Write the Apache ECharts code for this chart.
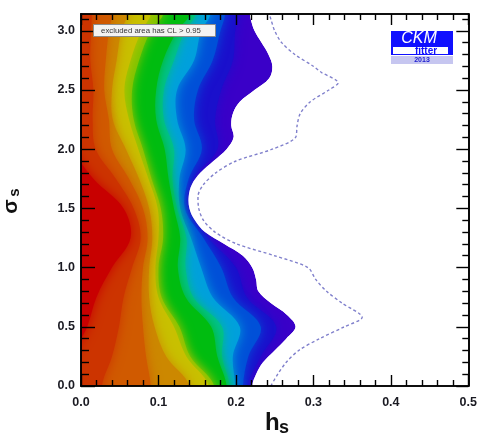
<!DOCTYPE html>
<html><head><meta charset="utf-8">
<script src="https://cdn.jsdelivr.net/npm/echarts@6/dist/echarts.min.js"></script>
<style>html,body{margin:0;padding:0;background:#fff}#c{width:480px;height:437px}</style>
</head><body><div id="c"></div>
<script>
// ---------- data ----------
const xTickValues = [0, 0.1, 0.2, 0.3, 0.4, 0.5];
const xTickLabels = ['0.0', '0.1', '0.2', '0.3', '0.4', '0.5'];
const xMinorTicks = [0.02,0.04,0.06,0.08,0.12,0.14,0.16,0.18,0.22,0.24,0.26,0.28,0.32,0.34,0.36,0.38,0.42,0.44,0.46,0.48];
const yTickValues = [0, 0.5, 1.0, 1.5, 2.0, 2.5, 3.0];
const yTickLabels = ['0.0', '0.5', '1.0', '1.5', '2.0', '2.5', '3.0'];
const yMinorTicks = [0.1,0.2,0.3,0.4,0.6,0.7,0.8,0.9,1.1,1.2,1.3,1.4,1.6,1.7,1.8,1.9,2.1,2.2,2.3,2.4,2.6,2.7,2.8,2.9,3.1];

// CL > 0.95 exclusion boundary (h_s at each sigma_s)
const sigmaFine = [0,0.1,0.2,0.3,0.4,0.5,0.6,0.7,0.8,0.9,1.0,1.1,1.2,1.3,1.4,1.5,1.6,1.7,1.8,1.9,2.0,2.1,2.2,2.3,2.4,2.5,2.6,2.7,2.8,2.9,3.0,3.1,3.1416];
const boundary95 = [0.221,0.226,0.235,0.250,0.265,0.277,0.266,0.245,0.229,0.226,0.221,0.209,0.185,0.160,0.147,0.140,0.139,0.143,0.154,0.171,0.188,0.197,0.194,0.196,0.205,0.224,0.243,0.247,0.242,0.233,0.224,0.219,0.218];

// dashed contour
const sigmaDashed = [0,0.1,0.2,0.3,0.4,0.5,0.58,0.7,0.8,0.9,1.0,1.1,1.2,1.3,1.4,1.5,1.6,1.7,1.8,1.9,2.0,2.1,2.2,2.3,2.4,2.5,2.56,2.65,2.7,2.8,2.9,3.0,3.1,3.1416];
const dashedContour = [0.245,0.254,0.265,0.281,0.308,0.340,0.363,0.337,0.317,0.303,0.293,0.250,0.201,0.173,0.158,0.152,0.151,0.158,0.174,0.200,0.247,0.277,0.279,0.283,0.296,0.320,0.332,0.310,0.300,0.276,0.259,0.250,0.245,0.243];

// inner colour contours (h_s at each sigma knot)
const sigmaKnots = [0, 0.25, 0.5, 0.75, 1.0, 1.25, 1.5, 1.75, 2.0, 2.25, 2.5, 2.75, 3.0, 3.1416];
const contour1  = [-0.01,-0.01,0.008,0.020,0.040,0.064,0.055,0.016,-0.01,-0.02,-0.02,-0.02,-0.02,-0.02];
const contour2  = [0.027,0.040,0.049,0.055,0.066,0.077,0.068,0.045,0.019,0.015,0.016,0.012,0.013,0.014];
const contour3  = [0.090,0.084,0.080,0.078,0.080,0.086,0.080,0.062,0.040,0.036,0.030,0.032,0.036,0.040];
const contour4  = [0.140,0.110,0.095,0.088,0.088,0.092,0.088,0.075,0.058,0.041,0.040,0.046,0.052,0.060];
const contour5  = [0.165,0.136,0.120,0.100,0.096,0.100,0.099,0.087,0.074,0.062,0.056,0.064,0.078,0.090];
const contour6  = [0.172,0.141,0.127,0.104,0.100,0.106,0.103,0.091,0.080,0.068,0.066,0.075,0.090,0.106];
const contour7  = [0.188,0.176,0.168,0.135,0.125,0.128,0.120,0.113,0.108,0.097,0.097,0.106,0.124,0.140];
const contour8  = [0.192,0.182,0.182,0.145,0.135,0.136,0.124,0.118,0.120,0.107,0.107,0.120,0.134,0.148];
const contour9  = [0.199,0.196,0.205,0.170,0.155,0.142,0.128,0.127,0.135,0.124,0.124,0.146,0.155,0.167];
const contour10 = [0.209,0.216,0.232,0.196,0.181,0.158,0.134,0.139,0.156,0.146,0.151,0.170,0.180,0.186];
const contour11 = [0.215,0.232,0.252,0.214,0.200,0.164,0.137,0.144,0.176,0.173,0.181,0.196,0.199,0.203];

// band colours, outermost (purple) to innermost (deep red)
const bandColors = ['#3a00c8','#1a10cc','#0050d8','#00a0dc','#00c090','#00bc10','#7cc400','#c8c000','#cc8800','#d05a00','#cc3400','#c80000'];

// ---------- chart ----------
const bands = [
  {xs: boundary95, ys: sigmaFine},
  {xs: contour11, ys: sigmaKnots},
  {xs: contour10, ys: sigmaKnots},
  {xs: contour9, ys: sigmaKnots},
  {xs: contour8, ys: sigmaKnots},
  {xs: contour7, ys: sigmaKnots},
  {xs: contour6, ys: sigmaKnots},
  {xs: contour5, ys: sigmaKnots},
  {xs: contour4, ys: sigmaKnots},
  {xs: contour3, ys: sigmaKnots},
  {xs: contour2, ys: sigmaKnots},
  {xs: contour1, ys: sigmaKnots}
];
const nBands = bands.length;

const chart = echarts.init(document.getElementById('c'), null, {renderer: 'canvas'});
const FONT = 'Liberation Sans, Arial, sans-serif';
const lineSty = {color: '#000', width: 1.6};
const tickSty = {color: '#000', width: 1.4};

function xAx(pos, ticks, len, labels) {
  return {
    type: 'value', min: 0, max: 0.5, interval: 0.1, position: pos, z: 10,
    axisLine: {show: true, onZero: false, lineStyle: lineSty},
    axisTick: {show: true, inside: true, length: len, customValues: ticks, lineStyle: tickSty},
    axisLabel: labels ? {
      show: true, margin: 10, customValues: xTickValues,
      formatter: v => xTickLabels[xTickValues.findIndex(t => Math.abs(t - v) < 1e-9)] || '',
      fontFamily: FONT, fontWeight: 'bold', fontSize: 12.5, color: '#1a1a22'
    } : {show: false, customValues: ticks},
    splitLine: {show: false}
  };
}
function yAx(pos, ticks, len, labels) {
  return {
    type: 'value', min: 0, max: Math.PI, interval: 0.5, position: pos, z: 10,
    axisLine: {show: true, onZero: false, lineStyle: lineSty},
    axisTick: {show: true, inside: true, length: len, customValues: ticks, lineStyle: tickSty},
    axisLabel: labels ? {
      show: true, margin: 6, customValues: yTickValues,
      formatter: v => yTickLabels[yTickValues.findIndex(t => Math.abs(t - v) < 1e-9)] || '',
      fontFamily: FONT, fontWeight: 'bold', fontSize: 12.5, color: '#1a1a22'
    } : {show: false, customValues: ticks},
    splitLine: {show: false}
  };
}

const option = {
  backgroundColor: '#fff',
  animation: false,
  grid: {left: 81, right: 10, top: 14, bottom: 51},
  xAxis: [
    xAx('bottom', xTickValues, 11, true),
    xAx('bottom', xMinorTicks, 6, false),
    xAx('top', xTickValues, 11, false),
    xAx('top', xMinorTicks, 6, false)
  ],
  yAxis: [
    yAx('left', yTickValues, 14, true),
    yAx('left', yMinorTicks, 8, false),
    yAx('right', yTickValues, 12, false),
    yAx('right', yMinorTicks, 6, false)
  ],
  series: [
    {
      type: 'custom',
      clip: true,
      silent: true,
      xAxisIndex: 0, yAxisIndex: 0,
      // one item per colour band, plus a final item for the white excluded area
      data: bands.map(() => [0, 0]).concat([[0, 0]]),
      renderItem: function (params, api) {
        const i = params.dataIndex;
        if (i === nBands) {
          const pts = [];
          const n = boundary95.length;
          pts.push(api.coord([0.8, -0.4]));
          pts.push(api.coord([boundary95[0], -0.4]));
          for (let k = 0; k < n; k++) pts.push(api.coord([boundary95[k], sigmaFine[k]]));
          pts.push(api.coord([boundary95[n - 1], Math.PI + 0.4]));
          pts.push(api.coord([0.8, Math.PI + 0.4]));
          return {type: 'polygon', shape: {points: pts, smooth: 0.35}, style: {fill: '#fff'}};
        }
        const b = bands[i];
        const n = b.xs.length;
        const pts = [];
        pts.push(api.coord([-0.1, -0.4]));
        pts.push(api.coord([b.xs[0], -0.4]));
        for (let k = 0; k < n; k++) pts.push(api.coord([b.xs[k], b.ys[k]]));
        pts.push(api.coord([b.xs[n - 1], Math.PI + 0.4]));
        pts.push(api.coord([-0.1, Math.PI + 0.4]));
        return {
          type: 'polygon',
          shape: {points: pts, smooth: 0.35},
          style: {fill: bandColors[i], shadowBlur: i === 0 ? 0 : 12, shadowColor: bandColors[i]}
        };
      },
      z: 1
    },
    {
      type: 'line',
      xAxisIndex: 0, yAxisIndex: 0,
      data: dashedContour.map((x, i) => [x, sigmaDashed[i]]),
      smooth: 0.3,
      showSymbol: false,
      symbol: 'none',
      clip: true,
      lineStyle: {type: [3, 2.5], color: '#8080cc', width: 1.4},
      z: 3
    }
  ],
  graphic: [
    // exclusion note
    {type: 'rect', left: 93, top: 24, shape: {width: 122, height: 12}, style: {fill: '#f3f3f3', stroke: '#8c8c8c', lineWidth: 1}, z: 100},
    {type: 'text', x: 151, y: 30.5, style: {text: 'excluded area has CL > 0.95', font: '7.8px ' + FONT, fill: '#333', align: 'center', verticalAlign: 'middle'}, z: 101},
    // CKMfitter logo
    {type: 'rect', shape: {x: 391, y: 31, width: 62, height: 24}, style: {fill: '#1010ff'}, z: 100},
    {type: 'text', x: 419, y: 39, style: {text: 'CKM', font: 'italic 16px ' + FONT, fill: '#fff', align: 'center', verticalAlign: 'middle'}, z: 101},
    {type: 'rect', shape: {x: 393, y: 47, width: 55, height: 7}, style: {fill: '#fff'}, z: 101},
    {type: 'text', x: 426, y: 50.8, style: {text: 'fitter', font: 'bold 10px ' + FONT, fill: '#1010ff', align: 'center', verticalAlign: 'middle'}, z: 102},
    {type: 'rect', shape: {x: 391, y: 56, width: 62, height: 8}, style: {fill: '#c6c6f0'}, z: 100},
    {type: 'text', x: 422, y: 60.3, style: {text: '2013', font: 'bold 7px ' + FONT, fill: '#2020d0', align: 'center', verticalAlign: 'middle'}, z: 101},
    // axis titles
    {type: 'text', x: 265, y: 423.7, style: {text: 'h', font: 'bold 24px ' + FONT, fill: '#111', align: 'left', verticalAlign: 'middle'}, z: 50},
    {type: 'text', x: 279, y: 428.5, style: {text: 's', font: 'bold 18px ' + FONT, fill: '#111', align: 'left', verticalAlign: 'middle'}, z: 50},
    {type: 'text', x: 11.5, y: 206.5, rotation: Math.PI / 2, style: {text: 'σ', font: 'bold 21px ' + FONT, fill: '#111', align: 'center', verticalAlign: 'middle'}, z: 50},
    {type: 'text', x: 14.5, y: 192.5, rotation: Math.PI / 2, style: {text: 's', font: 'bold 15px ' + FONT, fill: '#111', align: 'center', verticalAlign: 'middle'}, z: 50}
  ]
};
chart.setOption(option);
</script>
</body></html>
